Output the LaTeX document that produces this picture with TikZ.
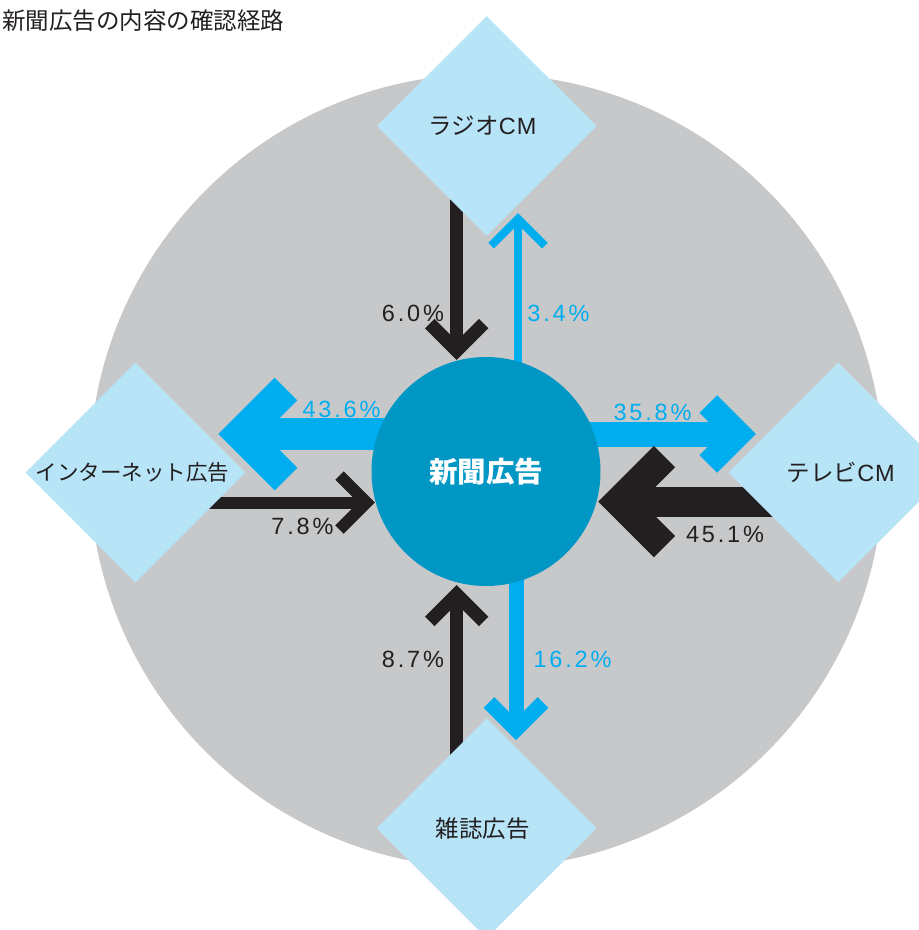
\documentclass[tikz,border=0pt]{standalone}
\usepackage{fontspec}
\newfontfamily\jp{Noto Sans CJK JP}
\newfontfamily\lat{Liberation Sans}
\newfontfamily\numf[LetterSpace=12]{Liberation Sans}
\usetikzlibrary{shapes.geometric,calc}
\definecolor{blk}{HTML}{231F20}
\definecolor{cyn}{HTML}{00AEEF}
\definecolor{teal}{HTML}{0097C4}
\definecolor{gry}{HTML}{C7C8CA}
\definecolor{dia}{HTML}{B8E4F8}
\pgfdeclarelayer{back}
\pgfdeclarelayer{mid}
\pgfsetlayers{back,mid,main}
\tikzset{
  media/.style={diamond, aspect=1, minimum width=220pt, minimum height=220pt,
    inner sep=0pt, fill=dia, text=blk, font=\fontsize{23.5}{27}\selectfont},
  pct/.style={inner sep=0pt, font=\numf\fontsize{23.5}{27}\selectfont},
  shaft/.style={line width=#1, line cap=butt},
  chev/.style={line width=#1, line cap=butt, line join=miter, miter limit=10}
}
\begin{document}
\begin{tikzpicture}[x=1pt,y=-1pt]
\useasboundingbox (0,0) rectangle (919,930);

\node[anchor=west, inner sep=0pt, text=blk, font=\jp\fontsize{23.5}{27}\selectfont] (title) at (2,21) {新聞広告の内容の確認経路};

\begin{pgfonlayer}{back}
\node[circle, fill=gry, minimum size=794pt, inner sep=0pt] (bigc) at (486.5,471) {};
\end{pgfonlayer}

\node[circle, fill=teal, minimum size=229pt, inner sep=0pt, text=white,
  font=\jp\bfseries\fontsize{28.5}{32}\selectfont] (center) at (486,471.5) {新聞広告};

\node[media] (radio) at (486.7,126) {{\jp ラジオ}{\lat C\kern1ptM}\kern8pt};
\node[media, font=\fontsize{21.5}{25}\selectfont] (net) at (135.5,472.5) {\jp インターネット広告\kern6pt};
\node[media] (tv) at (838.3,472.5) {\kern5pt{\jp テレビ}{\lat C\kern1ptM}};
\node[media] (mag) at (486.7,828.3) {\jp 雑誌広告\kern8pt};

% arrow tips (centre-line vertices)
\coordinate (p1) at (456.7,350.6);
\coordinate (p2) at (518,218.7);
\coordinate (p3) at (241,434);
\coordinate (p4) at (366.5,502.5);
\coordinate (p5) at (738.3,434);
\coordinate (p6) at (619.5,501.7);
\coordinate (p7) at (456.7,594.4);
\coordinate (p8) at (516,729.4);

\begin{pgfonlayer}{mid}
% radio -> newspaper 6.0%
\draw[blk, shaft=13.3] (radio.center -| p1) -- (p1);
\draw[blk, chev=13.3] ($(p1)+(-27,-27)$) -- (p1) -- ($(p1)+(27,-27)$);
% newspaper -> radio 3.4%
\draw[cyn, shaft=8] (center.center -| p2) -- (p2);
\draw[cyn, chev=8] ($(p2)+(-27,27)$) -- (p2) -- ($(p2)+(27,27)$);
% newspaper -> internet 43.6%
\draw[cyn, shaft=32] (center.center |- p3) -- (p3);
\draw[cyn, chev=32] ($(p3)+(45,-45)$) -- (p3) -- ($(p3)+(45,45)$);
% internet -> newspaper 7.8%
\draw[blk, shaft=12] (net.center |- p4) -- (p4);
\draw[blk, chev=12] ($(p4)+(-27,-27)$) -- (p4) -- ($(p4)+(-27,27)$);
% newspaper -> tv 35.8%
\draw[cyn, shaft=25] (center.center |- p5) -- (p5);
\draw[cyn, chev=25] ($(p5)+(-30,-30)$) -- (p5) -- ($(p5)+(-30,30)$);
% tv -> newspaper 45.1%
\draw[blk, shaft=30] (tv.center |- p6) -- (p6);
\draw[blk, chev=30] ($(p6)+(45,-45)$) -- (p6) -- ($(p6)+(45,45)$);
% magazine -> newspaper 8.7%
\draw[blk, shaft=13.3] (mag.center -| p7) -- (p7);
\draw[blk, chev=13.3] ($(p7)+(-27,27)$) -- (p7) -- ($(p7)+(27,27)$);
% newspaper -> magazine 16.2%
\draw[cyn, shaft=15] (center.center -| p8) -- (p8);
\draw[cyn, chev=15] ($(p8)+(-27,-27)$) -- (p8) -- ($(p8)+(27,-27)$);
\end{pgfonlayer}

\node[pct, text=blk] (l1) at (413,313) {6.0\%};
\node[pct, text=cyn] (l2) at (558.5,313) {3.4\%};
\node[pct, text=cyn] (l3) at (341.5,409) {43.6\%};
\node[pct, text=blk] (l4) at (302.5,526) {7.8\%};
\node[pct, text=cyn] (l5) at (652.5,412.5) {35.8\%};
\node[pct, text=blk] (l6) at (725,534.5) {45.1\%};
\node[pct, text=blk] (l7) at (413,659.5) {8.7\%};
\node[pct, text=cyn] (l8) at (572.5,659.5) {16.2\%};
\end{tikzpicture}
\end{document}
